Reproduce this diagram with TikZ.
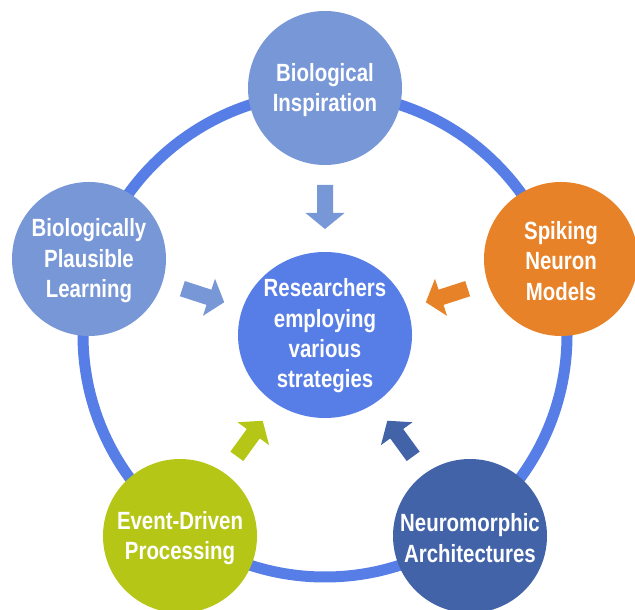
\documentclass[tikz,border=0pt]{standalone}
\usepackage{fontspec}
\newfontfamily\lblfamily{Liberation Sans}[FakeStretch=0.82]
\usetikzlibrary{calc}
\definecolor{ringblue}{RGB}{87,125,230}
\definecolor{softblue}{RGB}{120,151,214}
\definecolor{sporange}{RGB}{232,130,40}
\definecolor{evgreen}{RGB}{181,198,22}
\definecolor{nmblue}{RGB}{66,99,168}
\tikzset{
  outer/.style={circle, minimum size=154bp, inner sep=0pt, draw=none},
  lbl/.style={text=white, align=center, inner sep=0pt, yshift=-2bp,
    font=\lblfamily\bfseries\fontsize{25}{30.5}\selectfont},
  ring/.style={draw=ringblue, line width=11bp},
}
\begin{document}
\begin{tikzpicture}[x=1bp,y=1bp]
\useasboundingbox (0,0) rectangle (635,610);
\coordinate (c) at (325,275);
% ring
\draw[ring] (c) circle [radius=242];
% centre
\fill[ringblue] (c) ellipse [x radius=87, y radius=83];
\node[lbl] (ct) at (325,276) {Researchers\\employing\\various\\strategies};
% outer circles
\node[outer, fill=softblue] (top) at (325,522) {};
\node[outer, fill=softblue] (left) at (89,351) {};
\node[outer, fill=sporange] (right) at (561,351) {};
\node[outer, fill=evgreen] (bl) at (180,74) {};
\node[outer, fill=nmblue] (br) at (470,74) {};
\node[lbl] (topt) at (top) {Biological\\Inspiration};
\node[lbl] (leftt) at (left) {Biologically\\Plausible\\Learning};
\node[lbl] (rightt) at (right) {Spiking\\Neuron\\Models};
\node[lbl] (blt) at (bl) {Event-Driven\\Processing};
\node[lbl] (brt) at (br) {Neuromorphic\\Architectures};
% block arrows
\foreach \ang/\col in {90/softblue,162/softblue,18/sporange,234/evgreen,306/nmblue}{
  \begin{scope}[shift={(c)}, rotate=\ang]
    \fill[\col] (150,-8) -- (122,-8) -- (122,-19.5) -- (106,0) -- (122,19.5) -- (122,8) -- (150,8) -- cycle;
  \end{scope}
}
\end{tikzpicture}
\end{document}
